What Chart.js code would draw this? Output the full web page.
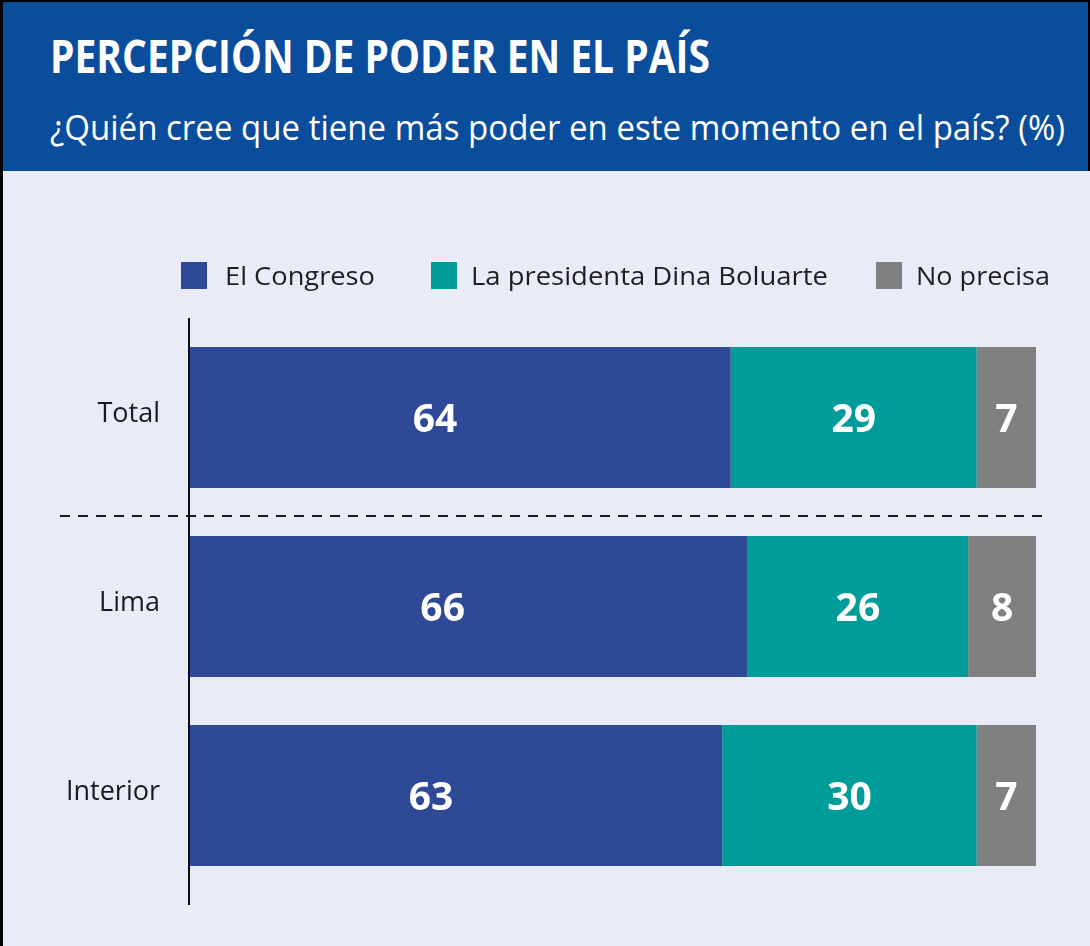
<!DOCTYPE html>
<html>
<head>
<meta charset="utf-8">
<script src="https://cdn.jsdelivr.net/npm/chart.js@4.4.1/dist/chart.umd.min.js"></script>
<style>
  html, body { margin:0; padding:0; }
  body { width:1090px; height:946px; position:relative; background:#e9ebf6; overflow:hidden; font-family:"Open Sans", sans-serif; }
  #header { position:absolute; left:0; top:0; width:1090px; height:171px; background:#0a4d9c; }
  .fit { position:absolute; white-space:nowrap; transform-origin:0 0; line-height:1; }
  #title { left:50px; top:32px; font-size:46px; font-weight:700; color:#fff; }
  #subtitle { left:50px; top:110px; font-size:34px; font-weight:400; color:#fff; }
  .lbox { position:absolute; top:262px; width:26px; height:27px; }
  .ltext { top:262px; font-size:26px; color:#1f1f1f; }
  #chartwrap { position:absolute; left:0; top:0; width:1090px; height:946px; }
  .bl { position:absolute; background:#000; }
</style>
</head>
<body>
<div id="chartwrap"><canvas id="c" width="1090" height="946"></canvas></div>
<div id="header">
  <span id="title" class="fit" data-w="660">PERCEPCIÓN DE PODER EN EL PAÍS</span>
  <span id="subtitle" class="fit" data-w="1015">¿Quién cree que tiene más poder en este momento en el país? (%)</span>
</div>
<div id="legend"></div>
<div class="bl" style="left:0;top:0;width:1090px;height:2px"></div>
<div class="bl" style="left:0;top:0;width:3px;height:946px"></div>
<div class="bl" style="right:0;top:0;width:2px;height:171px"></div>
<script>
const categories = ["Total", "Lima", "Interior"];
const seriesNames = ["El Congreso", "La presidenta Dina Boluarte", "No precisa"];
const congreso = [64, 66, 63];
const presidenta = [29, 26, 30];
const noPrecisa = [7, 8, 7];
const seriesColors = ["#2e4a97", "#009c99", "#808080"];

// HTML legend
const legendPos = [{box:181, text:225, w:150}, {box:431, text:471, w:357}, {box:876, text:916, w:134}];
const legendEl = document.getElementById('legend');
seriesNames.forEach((name, i) => {
  const b = document.createElement('div');
  b.className = 'lbox';
  b.style.left = legendPos[i].box + 'px';
  b.style.background = seriesColors[i];
  legendEl.appendChild(b);
  const t = document.createElement('span');
  t.className = 'fit ltext';
  t.style.left = legendPos[i].text + 'px';
  t.dataset.w = legendPos[i].w;
  t.textContent = name;
  legendEl.appendChild(t);
});

function fitAll() {
  document.querySelectorAll('.fit').forEach(el => {
    el.style.transform = 'none';
    const w = el.getBoundingClientRect().width;
    const target = parseFloat(el.dataset.w);
    if (w > 0 && target) el.style.transform = 'scaleX(' + (target / w) + ')';
  });
}
fitAll();
if (document.fonts && document.fonts.ready) document.fonts.ready.then(fitAll);

const decorPlugin = {
  id: 'decor',
  afterDatasetsDraw(chart) {
    const ctx = chart.ctx;
    const area = chart.chartArea;
    const y = chart.scales.y;
    // dashed separator between Total and Lima
    const sepY = (y.getPixelForValue(0) + y.getPixelForValue(1)) / 2 + 4;
    ctx.save();
    ctx.strokeStyle = '#1a1a1a';
    ctx.lineWidth = 2;
    ctx.setLineDash([10, 8]);
    ctx.beginPath();
    ctx.moveTo(60, sepY);
    ctx.lineTo(1043, sepY);
    ctx.stroke();
    ctx.setLineDash([]);
    // vertical axis line
    ctx.strokeStyle = '#0d0d1a';
    ctx.lineWidth = 2;
    ctx.beginPath();
    ctx.moveTo(area.left + 1, area.top - 5);
    ctx.lineTo(area.left + 1, area.bottom + 15);
    ctx.stroke();
    // value labels
    ctx.fillStyle = '#ffffff';
    ctx.font = '700 39px "Open Sans", sans-serif';
    ctx.textAlign = 'center';
    ctx.textBaseline = 'middle';
    chart.data.datasets.forEach((ds, di) => {
      const meta = chart.getDatasetMeta(di);
      meta.data.forEach((el, i) => {
        const left = Math.min(el.x, el.base), right = Math.max(el.x, el.base);
        const frac = di === 0 ? 0.455 : 0.5;
        const cx = left + (right - left) * frac;
        ctx.fillText(String(ds.data[i]), cx, el.y + 3);
      });
    });
    ctx.restore();
  }
};

new Chart(document.getElementById('c'), {
  type: 'bar',
  data: {
    labels: categories,
    datasets: [
      { label: seriesNames[0], data: congreso, backgroundColor: seriesColors[0] },
      { label: seriesNames[1], data: presidenta, backgroundColor: seriesColors[1] },
      { label: seriesNames[2], data: noPrecisa, backgroundColor: seriesColors[2] }
    ]
  },
  options: {
    indexAxis: 'y',
    responsive: false,
    animation: false,
    devicePixelRatio: 1,
    layout: { padding: { top: 323, bottom: 56, left: 0, right: 54 } },
    datasets: { bar: { categoryPercentage: 1, barPercentage: 0.746, borderWidth: 0 } },
    scales: {
      x: { stacked: true, min: 0, max: 100, display: false },
      y: {
        stacked: true,
        grid: { display: false, drawTicks: false },
        border: { display: false },
        ticks: { padding: 28, labelOffset: -3, color: '#1a1a1a', font: { family: '"Open Sans", sans-serif', size: 27 } },
        afterFit(s) { s.width = 188; }
      }
    },
    plugins: { legend: { display: false }, tooltip: { enabled: false } }
  },
  plugins: [decorPlugin]
});
</script>
</body>
</html>
